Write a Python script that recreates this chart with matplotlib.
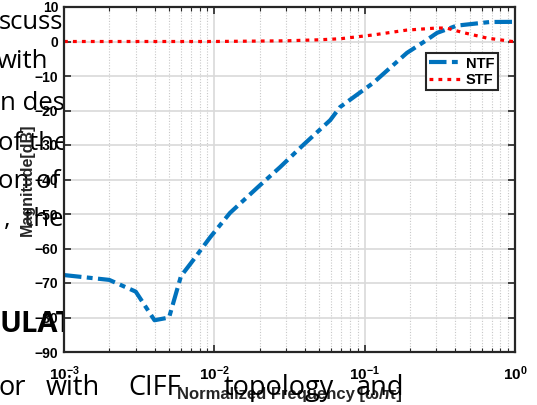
import numpy as np
import matplotlib
matplotlib.use('Agg')
import matplotlib.pyplot as plt
from matplotlib.ticker import LogLocator, NullFormatter, FixedLocator

plt.rcParams['font.family'] = 'Liberation Sans'
plt.rcParams['mathtext.fontset'] = 'custom'
plt.rcParams['mathtext.rm'] = 'Liberation Sans:bold'
plt.rcParams['mathtext.it'] = 'Liberation Sans:bold'
plt.rcParams['mathtext.bf'] = 'Liberation Sans:bold'

# noise transfer function
ntf_freq = [1e-3, 2e-3, 3e-3, 4e-3, 5e-3, 6e-3, 7e-3, 9.4e-3, 0.0127, 0.0195, 0.0274,
            0.039, 0.059, 0.0686, 0.114, 0.191, 0.25, 0.303, 0.41, 0.68, 1.0]
ntf_db = [-67.7, -69.1, -72.5, -80.8, -80.0, -68.0, -64.2, -56.7, -49.7, -42.2, -36.4,
          -30.0, -22.8, -19.0, -12.0, -3.3, 0.0, 2.5, 4.6, 5.65, 5.7]

# signal transfer function
stf_freq = [1e-3, 1e-2, 0.03, 0.05, 0.069, 0.114, 0.19, 0.3, 0.35, 0.45, 0.65, 1.0]
stf_db = [0.0, 0.0, 0.2, 0.5, 0.8, 1.9, 3.3, 3.9, 3.9, 2.6, 1.0, -0.1]

x_ticks = [1e-3, 1e-2, 1e-1, 1]
x_ticklabels = [r'$\mathbf{10^{-3}}$', r'$\mathbf{10^{-2}}$', r'$\mathbf{10^{-1}}$', r'$\mathbf{10^{0}}$']

# background page text behind the figure
page_lines = ['scuss', 'with', 'n design', 'of the', 'on of', ',  the']
page_y = [29, 68, 110, 150, 188, 226]
page_x = [-1, -3, 0, -2, -2, 4]
bottom_words = ['or', 'with', 'CIFF', 'topology', 'and']
bottom_x = [-2, 46, 128, 224, 356]

W, H = 537, 405
fig = plt.figure(figsize=(W / 100, H / 100), dpi=100)

for s, x, y in zip(page_lines, page_x, page_y):
    fig.text(x / W, 1 - y / H, s, family='Open Sans', fontsize=18.5,
             va='baseline', ha='left', zorder=-1)
fig.text(0 / W, 1 - 332 / H, 'ULATION', family='Open Sans', fontsize=21,
         fontweight='bold', va='baseline', ha='left', zorder=-1)

ax = fig.add_axes([64 / W, 1 - 352 / H, 451 / W, 345 / H])
ax.set_facecolor('white')

ax.plot(ntf_freq, ntf_db, color='#0072BD', linewidth=3.0,
        dashes=(4.2, 1.3, 1.4, 1.3), label='NTF')
ax.plot(stf_freq, stf_db, color='red', linewidth=2.3,
        dashes=(1.2, 1.6), label='STF')

ax.set_xscale('log')
ax.set_xlim(1e-3, 1)
ax.set_ylim(-90, 10)
ax.yaxis.set_major_locator(FixedLocator(np.arange(-90, 11, 10)))
ax.set_xticks(x_ticks)
ax.set_xticklabels(x_ticklabels)
ax.xaxis.set_minor_locator(LogLocator(base=10, subs=np.arange(2, 10)))
ax.xaxis.set_minor_formatter(NullFormatter())

ax.grid(which='major', color='#d9d9d9', linewidth=1.2, linestyle='-')
ax.grid(which='minor', axis='x', color='#c8c8c8', linewidth=0.8, linestyle=(0, (1, 1.5)))
ax.set_axisbelow(True)

for sp in ax.spines.values():
    sp.set_linewidth(1.6)
    sp.set_color('#262626')

ax.tick_params(which='both', direction='in', top=True, right=True, color='#262626')
ax.tick_params(which='major', length=5, width=1.2)
ax.tick_params(which='minor', length=3, width=0.8)
ax.tick_params(axis='x', which='major', pad=9, labelsize=11)
ax.tick_params(axis='y', pad=4, labelsize=10)
for lab in ax.get_yticklabels():
    lab.set_fontweight('bold')

ax.set_ylabel('Magnitude[dB]', fontweight='bold', fontsize=11.5, color='#262626', labelpad=0)
ax.set_xlabel('Normalized Frequency [ω/π]', fontweight='bold', fontsize=12,
              color='#262626', labelpad=3)

leg = ax.legend(loc='upper right', bbox_to_anchor=(0.962, 0.867), fancybox=False,
                framealpha=1, edgecolor='#262626', handlelength=2.2,
                prop={'weight': 'bold', 'size': 10.5}, borderpad=0.25,
                labelspacing=0.15, handletextpad=0.3, borderaxespad=0)
leg.get_frame().set_linewidth(1.5)

for s, x in zip(bottom_words, bottom_x):
    fig.text(x / W, 1 - 395 / H, s, family='Open Sans', fontsize=19.5,
             va='baseline', ha='left', zorder=5)

fig.savefig('out.png', dpi=100)
